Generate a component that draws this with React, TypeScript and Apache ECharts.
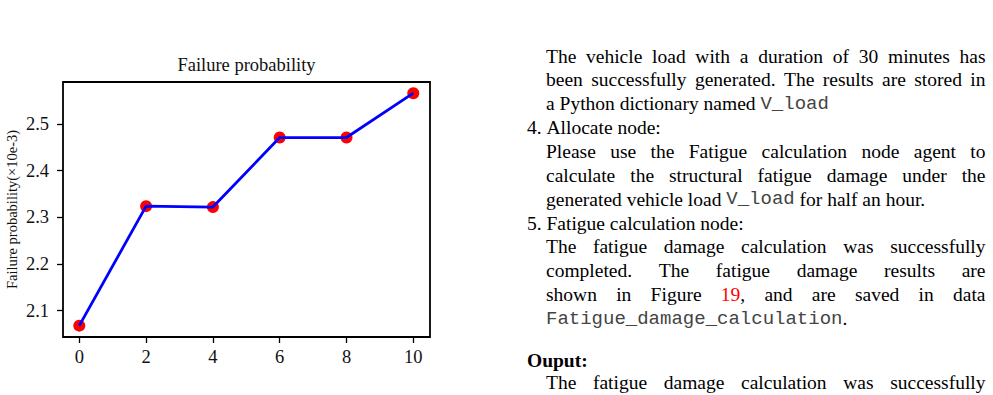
import React, { useEffect, useRef } from 'react';
import * as echarts from 'echarts';

// ---- chart data ----
const xValues = [0, 2, 4, 6, 8, 10];
const failureProb = [2.068, 2.324, 2.322, 2.471, 2.471, 2.566];
const xTickMin = 0;
const xTickMax = 10;
const xTickStep = 2;
const yTickMin = 2.1;
const yTickMax = 2.5;
const yTickStep = 0.1;
const chartTitle = 'Failure probability';
const yAxisName = 'Failure probability(×10e-3)';

// ---- accompanying page text ----
// markup: {m:...} monospace, {r:...} red
const textLines = [
  'The vehicle load with a duration of 30 minutes has',
  'been successfully generated. The results are stored in',
  'a Python dictionary named {m:V_load}',
  '4. Allocate node:',
  'Please use the Fatigue calculation node agent to',
  'calculate the structural fatigue damage under the',
  'generated vehicle load {m:V_load} for half an hour.',
  '5. Fatigue calculation node:',
  'The fatigue damage calculation was successfully',
  'completed. The fatigue damage results are',
  'shown in Figure {r:19}, and are saved in data',
  '{m:Fatigue_damage_calculation}.',
  'Ouput:',
  'The fatigue damage calculation was successfully',
];
// j = justified indented, i = indented, n = numbered item, b = bold heading
const textKinds = ['j', 'j', 'i', 'n', 'j', 'j', 'i', 'n', 'j', 'j', 'j', 'i', 'b', 'j'];

const SERIF = 'Liberation Serif';
const MONO = 'Liberation Mono';
const BODY_SIZE = 19.5;
const MONO_SIZE = 19;

type Run = { t: string; mono?: boolean; red?: boolean; bold?: boolean };

function parseRuns(word: string, bold: boolean): Run[] {
  const out: Run[] = [];
  const re = /\{(m|r):([^}]*)\}|([^{]+)/g;
  let m: RegExpExecArray | null;
  while ((m = re.exec(word)) !== null) {
    if (m[1] === 'm') out.push({ t: m[2], mono: true });
    else if (m[1] === 'r') out.push({ t: m[2], red: true, bold });
    else out.push({ t: m[3], bold });
  }
  return out;
}

function cssFont(r: Run) {
  if (r.mono) return `${MONO_SIZE}px "${MONO}"`;
  return `${r.bold ? 'bold ' : ''}${BODY_SIZE}px "${SERIF}"`;
}

function buildTextGraphics() {
  const canvas = document.createElement('canvas');
  const ctx = canvas.getContext('2d')!;
  const els: any[] = [];
  const RIGHT = 985.5;
  textLines.forEach((line, i) => {
    const kind = textKinds[i];
    let baseline: number;
    if (i <= 11) baseline = 62.7 + 23.85 * i;
    else baseline = 367 + 22.5 * (i - 12);
    const left = kind === 'n' || kind === 'b' ? 527 : 546;
    const words = line.split(' ').map((w) => parseRuns(w, kind === 'b'));
    const measured = words.map((rs) =>
      rs.map((r) => {
        ctx.font = cssFont(r);
        return { ...r, w: ctx.measureText(r.t).width };
      })
    );
    const wordW = measured.map((rs) => rs.reduce((s, r) => s + r.w, 0));
    const total = wordW.reduce((s, v) => s + v, 0);
    let gap: number;
    if (kind === 'j' && words.length > 1) {
      gap = (RIGHT - left - total) / (words.length - 1);
    } else {
      ctx.font = `${kind === 'b' ? 'bold ' : ''}${BODY_SIZE}px "${SERIF}"`;
      gap = ctx.measureText(' ').width;
    }
    let x = left;
    measured.forEach((rs) => {
      rs.forEach((r) => {
        const size = r.mono ? MONO_SIZE : BODY_SIZE;
        els.push({
          type: 'text',
          x,
          y: baseline - 0.34 * size,
          silent: true,
          style: {
            text: r.t,
            fontSize: size,
            fontFamily: r.mono ? MONO : SERIF,
            fontWeight: r.bold ? 'bold' : 'normal',
            fill: r.red ? '#ff0000' : r.mono ? '#444' : '#000',
            align: 'left',
            verticalAlign: 'middle',
          },
        });
        x += r.w;
      });
      x += gap;
    });
  });
  return els;
}

// plot frame (matplotlib axes box) and tick-range area, in page pixels
const FRAME = { left: 63, right: 430, top: 82, bottom: 337 };
const INNER = { left: 79.3, right: 413.3, top: 124, bottom: 310.7 };

export default function App() {
  const ref = useRef<HTMLDivElement>(null);
  useEffect(() => {
    if (!ref.current) return;
    const chart = echarts.init(ref.current, undefined, { renderer: 'svg' });
    const points = xValues.map((x, i) => [x, failureProb[i]]);
    const labelStyle = { fontFamily: SERIF, fontSize: 18.5, color: '#111' };
    chart.setOption({
      animation: false,
      backgroundColor: '#fff',
      textStyle: { fontFamily: SERIF, fontSize: 18.5, color: '#111' },
      grid: [
        {
          left: INNER.left,
          right: 993 - INNER.right,
          top: INNER.top,
          bottom: 395 - INNER.bottom,
          show: false,
          containLabel: false,
          outerBoundsMode: 'none',
        },
        {
          left: FRAME.left,
          right: 993 - FRAME.right,
          top: FRAME.top,
          bottom: 395 - FRAME.bottom,
          show: true,
          containLabel: false,
          outerBoundsMode: 'none',
          borderColor: '#000',
          borderWidth: 1.8,
          backgroundColor: 'transparent',
        },
      ],
      xAxis: [
        {
          type: 'value',
          gridIndex: 0,
          min: xTickMin,
          max: xTickMax,
          interval: xTickStep,
          offset: FRAME.bottom - INNER.bottom,
          axisLine: { show: false, onZero: false },
          axisTick: {
            show: true,
            length: 6,
            inside: false,
            lineStyle: { color: '#000', width: 1.3 },
          },
          axisLabel: { ...labelStyle, margin: 10.5, formatter: (v: number) => String(v) },
          splitLine: { show: false },
        },
        { type: 'value', gridIndex: 1, show: false, min: 0, max: 1 },
      ],
      yAxis: [
        {
          type: 'value',
          gridIndex: 0,
          min: yTickMin,
          max: yTickMax,
          interval: yTickStep,
          offset: INNER.left - FRAME.left,
          axisLine: { show: false, onZero: false },
          axisTick: {
            show: true,
            length: 6,
            inside: false,
            lineStyle: { color: '#000', width: 1.3 },
          },
          axisLabel: { ...labelStyle, margin: 14, formatter: (v: number) => v.toFixed(1) },
          splitLine: { show: false },
        },
        {
          type: 'value',
          gridIndex: 1,
          min: 0,
          max: 1,
          name: yAxisName,
          nameLocation: 'middle',
          nameGap: 44,
          nameRotate: 90,
          nameTextStyle: { fontFamily: SERIF, fontSize: 14.5, color: '#111' },
          axisLine: { show: false },
          axisTick: { show: false },
          axisLabel: { show: false },
          splitLine: { show: false },
        },
      ],
      series: [
        {
          type: 'scatter',
          xAxisIndex: 0,
          yAxisIndex: 0,
          data: points,
          symbolSize: 12,
          clip: false,
          itemStyle: { color: '#ff0000', opacity: 1 },
          z: 2,
          silent: true,
        },
        {
          type: 'line',
          xAxisIndex: 0,
          yAxisIndex: 0,
          data: points,
          symbol: 'none',
          showSymbol: false,
          clip: false,
          lineStyle: { color: '#0000ff', width: 2.8 },
          z: 3,
          silent: true,
        },
      ],
      graphic: [
        {
          type: 'text',
          x: (FRAME.left + FRAME.right) / 2,
          y: 65,
          silent: true,
          style: {
            text: chartTitle,
            fontSize: 18.5,
            fontFamily: SERIF,
            fill: '#111',
            align: 'center',
            verticalAlign: 'middle',
          },
        },
        ...buildTextGraphics(),
      ],
    });
    return () => chart.dispose();
  }, []);
  return (
    <div
      ref={ref}
      style={{ position: 'fixed', left: 0, top: 0, width: 993, height: 395, background: '#fff' }}
    />
  );
}
